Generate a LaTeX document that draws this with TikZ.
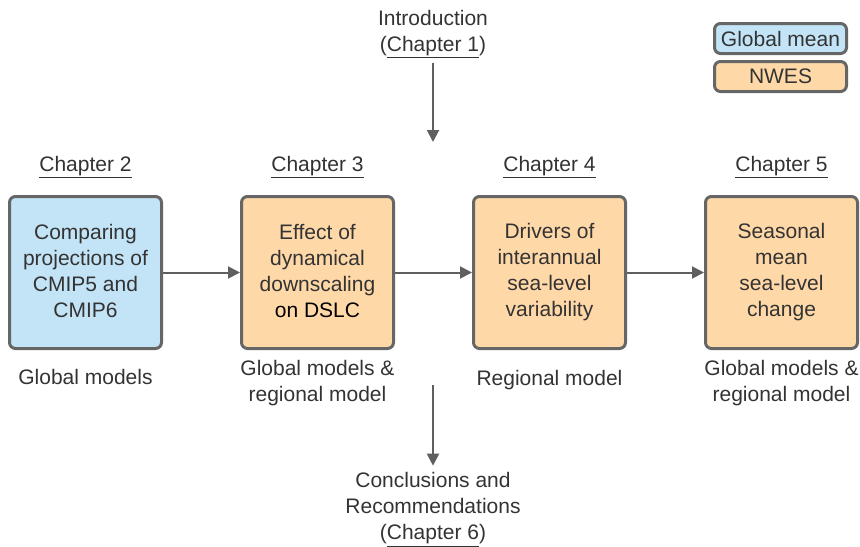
\documentclass[tikz,border=0pt]{standalone}
\usepackage{fontspec}
\setmainfont{Liberation Sans}
\usepackage{xcolor}
\usetikzlibrary{arrows.meta,positioning}
\definecolor{boxline}{HTML}{666666}
\definecolor{linegray}{HTML}{5F5F5F}
\definecolor{txtgray}{HTML}{333333}
\definecolor{globalfill}{HTML}{C3E4F6}
\definecolor{nwesfill}{HTML}{FFD8A8}
\newcommand\boxtop{\rule{0pt}{17.2pt}}
\newcommand\boxbot{\rule[-2.2pt]{0pt}{2.2pt}}
\tikzset{
        chapbox/.style = {draw=boxline, line width=2.25pt, rounded corners=4.5pt,
            minimum width=114pt,
            minimum height=114pt,
            align=center, text=txtgray,
            font=\fontsize{15.75}{19.5}\selectfont,
            execute at begin node=\boxtop, execute at end node=\boxbot},
        globalbox/.style = {chapbox, fill=globalfill},
        nwesbox/.style = {chapbox, fill=nwesfill},
        keybox/.style = {draw=boxline, line width=2.25pt, rounded corners=4.5pt,
            minimum width=99pt, minimum height=22.5pt, inner sep=0pt,
            text=txtgray, font=\fontsize{15.75}{19.5}\selectfont},
        chaptext/.style = {align=center, text=txtgray, inner sep=0pt,
            font=\fontsize{15.75}{19.5}\selectfont},
        arrow/.style = {draw=linegray, line width=1.5pt,
            -{Triangle[length=9pt,width=9pt]}},
    }

\begin{document}
\begin{tikzpicture}[x=0.75pt,y=-0.75pt]
        \useasboundingbox (0,0) rectangle (860,546);

        % chapter boxes
        \node[globalbox] (c2) at (85.5,272.5) {Comparing\\projections of\\CMIP5 and\\CMIP6};
        \node[nwesbox, right=57.75pt of c2] (c3) {Effect of\\dynamical\\downscaling\\\textcolor{black}{on DSLC}};
        \node[nwesbox, right=57.75pt of c3] (c4) {Drivers of\\interannual\\sea-level\\variability};
        \node[nwesbox, right=57.75pt of c4] (c5) {Seasonal\\mean\\sea-level\\change};

        % chapter titles
        \node[chaptext] (t2) at (c2 |- 0,167) {\underline{Chapter 2}};
        \node[chaptext] (t3) at (c3 |- 0,167) {\underline{Chapter 3}};
        \node[chaptext] (t4) at (c4 |- 0,167) {\underline{Chapter 4}};
        \node[chaptext] (t5) at (c5 |- 0,167) {\underline{Chapter 5}};

        % model types
        \node[chaptext] (m2) at (c2 |- 0,377) {Global models};
        \node[chaptext] (m3) at (c3 |- 0,383) {Global models \&\\regional model};
        \node[chaptext] (m4) at (c4 |- 0,380) {Regional model};
        \node[chaptext] (m5) at (c5 |- 0,383) {Global models \&\\regional model};

        % legend
        \node[keybox, fill=globalfill] (kglobal) at (780.5,38.5) {Global mean};
        \node[keybox, fill=nwesfill] (knwes) at (780.5,76.5) {NWES};

        % intro and conclusions
        \node[chaptext, outer sep=3.5pt] (intro) at (433,34) {Introduction\\(\underline{Chapter 1})};
        \coordinate (introend) at (433,142);
        \node[chaptext, outer sep=5pt] (concl) at (433,509.5) {Conclusions and\\Recommendations\\(\underline{Chapter 6})};
        \coordinate (conclstart) at (433,385);

        \draw[arrow] (c2) -- (c3);
        \draw[arrow] (c3) -- (c4);
        \draw[arrow] (c4) -- (c5);
        \draw[arrow] (intro) -- (introend);
        \draw[arrow] (conclstart) -- (concl);
\end{tikzpicture}
\end{document}
